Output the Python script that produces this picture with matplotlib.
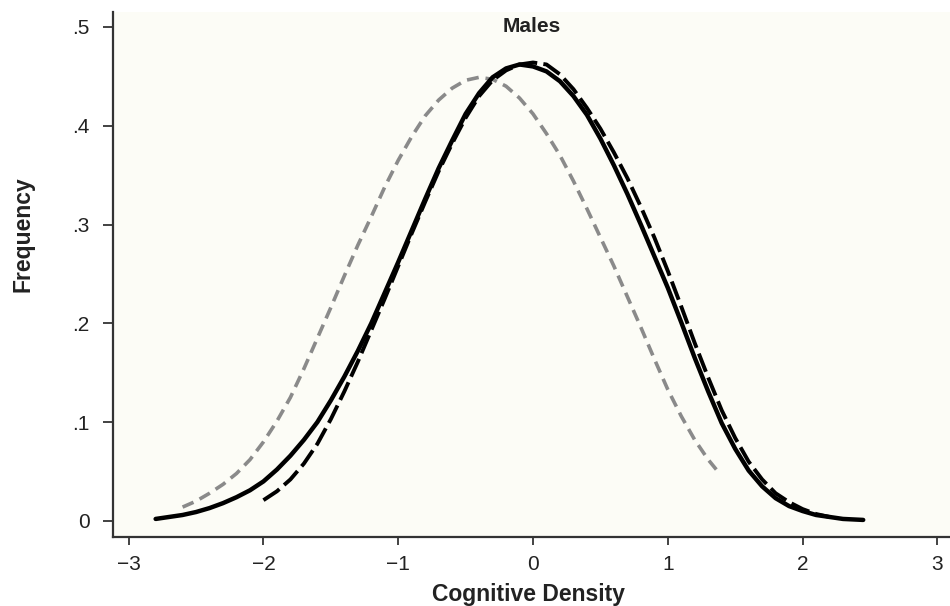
import matplotlib
matplotlib.use('Agg')
import matplotlib.pyplot as plt

# Значения (шаг 0.1)
solid_x = [-2.8, -2.7, -2.6, -2.5, -2.4, -2.3, -2.2, -2.1, -2.0, -1.9, -1.8, -1.7,
           -1.6, -1.5, -1.4, -1.3, -1.2, -1.1, -1.0, -0.9, -0.8, -0.7, -0.6, -0.5,
           -0.4, -0.3, -0.2, -0.1, 0.0, 0.1, 0.2, 0.3, 0.4, 0.5, 0.6, 0.7,
           0.8, 0.9, 1.0, 1.1, 1.2, 1.3, 1.4, 1.5, 1.6, 1.7, 1.8, 1.9,
           2.0, 2.1, 2.2, 2.3, 2.45]
solid_y = [0.002, 0.004, 0.006, 0.009, 0.013, 0.018, 0.024, 0.031, 0.040, 0.052, 0.066, 0.082,
           0.100, 0.122, 0.146, 0.172, 0.200, 0.231, 0.262, 0.294, 0.326, 0.357, 0.385, 0.412,
           0.433, 0.449, 0.458, 0.462, 0.460, 0.455, 0.445, 0.430, 0.411, 0.387, 0.360, 0.331,
           0.300, 0.268, 0.236, 0.201, 0.165, 0.131, 0.099, 0.073, 0.051, 0.035, 0.023, 0.015,
           0.010, 0.006, 0.004, 0.002, 0.001]

long_x = [-2.0, -1.9, -1.8, -1.7, -1.6, -1.5, -1.4, -1.3, -1.2, -1.1, -1.0, -0.9,
          -0.8, -0.7, -0.6, -0.5, -0.4, -0.3, -0.2, -0.1, 0.0, 0.1, 0.2, 0.3,
          0.4, 0.5, 0.6, 0.7, 0.8, 0.9, 1.0, 1.1, 1.2, 1.3, 1.4, 1.5,
          1.6, 1.7, 1.8, 1.9, 2.0, 2.1, 2.2]
long_y = [0.021, 0.030, 0.042, 0.058, 0.078, 0.103, 0.131, 0.161, 0.193, 0.225, 0.258, 0.291,
          0.323, 0.354, 0.382, 0.408, 0.430, 0.446, 0.456, 0.462, 0.464, 0.462, 0.452, 0.437,
          0.418, 0.397, 0.373, 0.347, 0.318, 0.287, 0.253, 0.217, 0.180, 0.145, 0.112, 0.084,
          0.060, 0.042, 0.028, 0.019, 0.012, 0.007, 0.004]

gray_x = [-2.6, -2.5, -2.4, -2.3, -2.2, -2.1, -2.0, -1.9, -1.8, -1.7, -1.6, -1.5,
          -1.4, -1.3, -1.2, -1.1, -1.0, -0.9, -0.8, -0.7, -0.6, -0.5, -0.4, -0.3,
          -0.2, -0.1, 0.0, 0.1, 0.2, 0.3, 0.4, 0.5, 0.6, 0.7, 0.8, 0.9,
          1.0, 1.1, 1.2, 1.3, 1.36]
gray_y = [0.014, 0.020, 0.028, 0.037, 0.048, 0.062, 0.080, 0.101, 0.125, 0.154, 0.185, 0.216,
          0.248, 0.279, 0.308, 0.338, 0.365, 0.389, 0.410, 0.426, 0.438, 0.446, 0.449, 0.447,
          0.440, 0.428, 0.412, 0.392, 0.370, 0.344, 0.316, 0.287, 0.258, 0.227, 0.196, 0.164,
          0.133, 0.106, 0.082, 0.062, 0.052]

x_ticks = [-3, -2, -1, 0, 1, 2, 3]
y_ticks = [0, 0.1, 0.2, 0.3, 0.4, 0.5]
y_tick_labels = ['0', '.1', '.2', '.3', '.4', '.5']

plt.rcParams['font.family'] = ['Liberation Sans', 'DejaVu Sans']

fig = plt.figure(figsize=(9.5, 6.06), dpi=100)
ax = fig.add_axes([0.119, 0.114, 0.881, 0.866])
ax.set_facecolor('#fcfcf6')

ax.plot(gray_x, gray_y, color='#8a8a8a', lw=2.6, linestyle=(0, (3.3, 1.9)),
        dash_capstyle='butt', solid_joinstyle='round')
ax.plot(solid_x, solid_y, color='black', lw=3.2, solid_capstyle='round',
        solid_joinstyle='round')
ax.plot(long_x, long_y, color='black', lw=2.8, linestyle=(0, (5.0, 1.6)),
        dash_capstyle='butt')

ax.set_xlim(-3.116, 3.094)
ax.set_ylim(-0.0162, 0.515)
ax.set_xticks(x_ticks)
ax.set_yticks(y_ticks)
ax.set_yticklabels(y_tick_labels)

for s in ['top', 'right']:
    ax.spines[s].set_visible(False)
for s in ['left', 'bottom']:
    ax.spines[s].set_linewidth(1.6)
    ax.spines[s].set_color('#333333')

ax.tick_params(axis='x', direction='out', length=6, width=1.2, pad=7,
               labelsize=15, colors='#222222')
ax.tick_params(axis='y', direction='out', length=7, width=1.2, pad=10,
               labelsize=15, colors='#222222')

ax.text(0.5, 0.973, 'Males', transform=ax.transAxes, ha='center', va='center',
        fontsize=15, fontweight='bold', color='#222222')

fig.text(23 / 950, 1 - 234 / 606, 'Frequency', rotation=90, ha='center', va='center',
         fontsize=16.5, fontweight='bold', color='#222222')
fig.text(529 / 950, 1 - 595 / 606, 'Cognitive Density', ha='center', va='center',
         fontsize=16.5, fontweight='bold', color='#222222')

plt.savefig('out.png', dpi=100)
